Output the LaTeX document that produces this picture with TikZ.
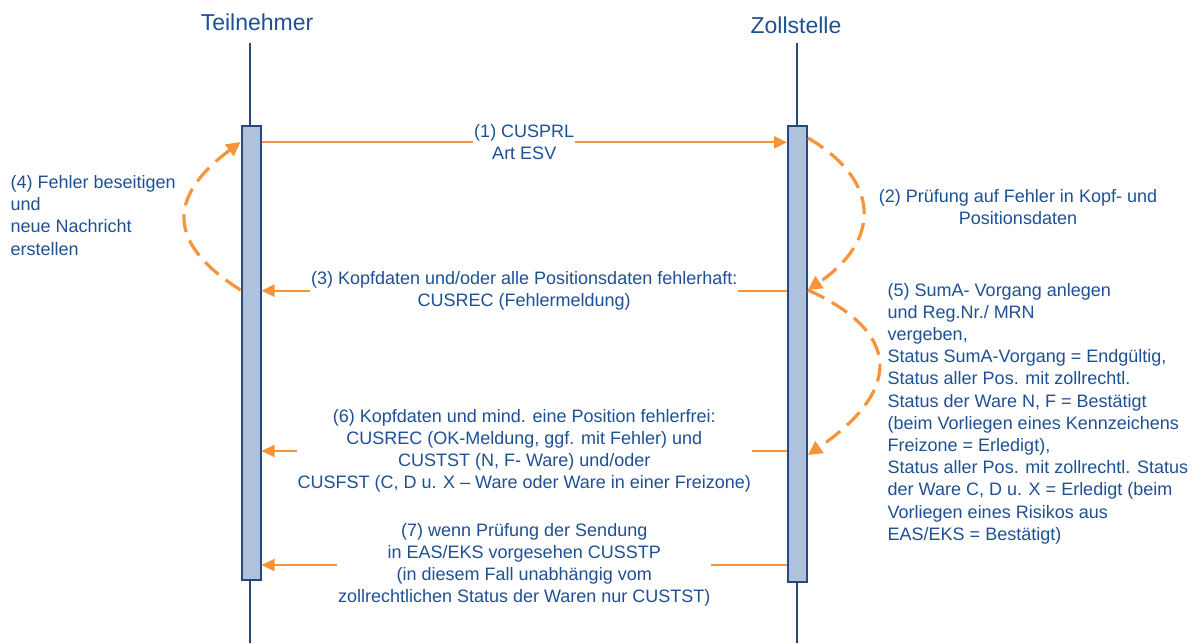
\documentclass[tikz,border=0pt]{standalone}
\usepackage{fontspec}
\setmainfont{Liberation Sans}
\usetikzlibrary{arrows.meta}
\definecolor{txtblue}{RGB}{30,80,148}
\definecolor{navy}{RGB}{40,72,125}
\definecolor{barfill}{RGB}{175,194,219}
\definecolor{orng}{RGB}{247,148,58}
\begin{document}
\begin{tikzpicture}[x=1pt,y=-1pt,
  every node/.style={text=txtblue, font=\fontsize{18}{22.2}\selectfont, inner sep=0pt},
  ttl/.style={font=\fontsize{23}{27}\selectfont},
  lifeline/.style={draw=navy, line width=2pt},
  actbar/.style={draw=navy, fill=barfill, line width=2pt, minimum width=19pt, anchor=north},
  msg/.style={draw=orng, line width=2.3pt, -{Triangle[length=13pt,width=12pt]}},
  dashloop/.style={draw=orng, line width=3.2pt, dash pattern=on 18pt off 9pt, -{Triangle[length=14pt,width=14pt]}},
  msglabel/.style={fill=white, align=center, inner xsep=1pt, inner ysep=1pt},
]
\useasboundingbox (0,0) rectangle (1201,643);

% participants
\node[ttl] (tn) at (257,22.5) {Teilnehmer};
\node[ttl] (zs) at (796,25.7) {Zollstelle};
\coordinate (tnTop) at (250,43);
\coordinate (tnBot) at (250,643);
\coordinate (zsTop) at (797,43);
\coordinate (zsBot) at (797,643);
\draw[lifeline] (tnTop) -- (tnBot);
\draw[lifeline] (zsTop) -- (zsBot);

% activation bars
\node[actbar, minimum height=454.5pt] (barL) at (251,124.5) {};
\node[actbar, minimum height=456.5pt] (barR) at (797.5,124.5) {};

% messages
\draw[msg] (barL.east |- 0,142.3) -- (barR.west |- 0,142.3)
  node[midway, msglabel] (l1) {(1) CUSPRL\\Art ESV};
\draw[msg] (barR.west |- 0,290.7) -- (barL.east |- 0,290.7)
  node[midway, msglabel] (l3) {(3) Kopfdaten und/oder alle Positionsdaten fehlerhaft:\\CUSREC (Fehlermeldung)};
\draw[msg] (barR.west |- 0,451) -- (barL.east |- 0,451)
  node[midway, msglabel] (l6) {(6) Kopfdaten und mind. eine Position fehlerfrei:\\CUSREC (OK-Meldung, ggf. mit Fehler) und\\CUSTST (N, F- Ware) und/oder\\CUSFST (C, D u. X -- Ware oder Ware in einer Freizone)};
\draw[msg] (barR.west |- 0,565) -- (barL.east |- 0,565)
  node[midway, msglabel] (l7) {(7) wenn Prüfung der Sendung\\in EAS/EKS vorgesehen CUSSTP\\(in diesem Fall unabhängig vom\\zollrechtlichen Status der Waren nur CUSTST)};

% self loops
\draw[dashloop] (barR.east |- 0,138) .. controls (881,181) and (881,240) .. (barR.east |- 0,290);
\draw[dashloop] (barR.east |- 0,290) .. controls (902,333) and (902,390) .. (barR.east |- 0,455);
\draw[dashloop] (barL.west |- 0,290) .. controls (168,244) and (166,198) .. (barL.west |- 0,142);

% side texts
\node[anchor=west, align=left] (t4) at (10.5,215.3) {(4) Fehler beseitigen\\und\\neue Nachricht\\erstellen};
\node[align=center] (t2) at (1018,207) {(2) Prüfung auf Fehler in Kopf- und\\Positionsdaten};
\node[anchor=west, align=left] (t5) at (887.5,413.5) {(5) SumA- Vorgang anlegen\\und Reg.Nr./ MRN\\vergeben,\\Status SumA-Vorgang = Endgültig,\\Status aller Pos. mit zollrechtl.\\Status der Ware N, F = Bestätigt\\(beim Vorliegen eines Kennzeichens\\Freizone = Erledigt),\\Status aller Pos. mit zollrechtl. Status\\der Ware C, D u. X = Erledigt (beim\\Vorliegen eines Risikos aus\\EAS/EKS = Bestätigt)};
\end{tikzpicture}
\end{document}
